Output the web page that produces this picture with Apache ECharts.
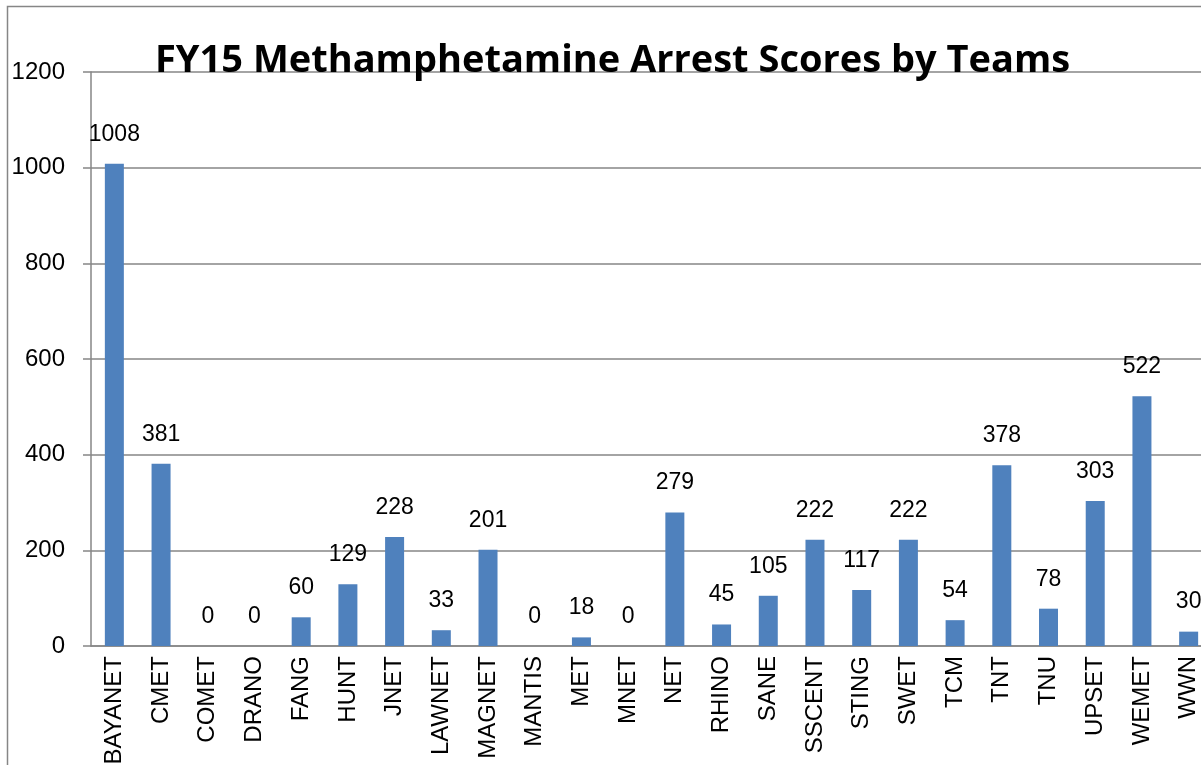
<!DOCTYPE html>
<html>
<head>
<meta charset="utf-8">
<script src="https://cdn.jsdelivr.net/npm/echarts@6/dist/echarts.min.js"></script>
<style>
  html, body { margin: 0; padding: 0; background: #fff; }
  #chart { width: 1201px; height: 765px; }
</style>
</head>
<body>
<div id="chart"></div>
<script>
  // teams and their arrest scores
  const teams = ['BAYANET', 'CMET', 'COMET', 'DRANO', 'FANG', 'HUNT', 'JNET', 'LAWNET',
    'MAGNET', 'MANTIS', 'MET', 'MNET', 'NET', 'RHINO', 'SANE', 'SSCENT', 'STING',
    'SWET', 'TCM', 'TNT', 'TNU', 'UPSET', 'WEMET', 'WWN']
  const scores = [1008, 381, 0, 0, 60, 129, 228, 33, 201, 0, 18, 0, 279, 45, 105,
    222, 117, 222, 54, 378, 78, 303, 522, 30]
  const yTicks = [0, 200, 400, 600, 800, 1000, 1200]

  const myChart = echarts.init(document.getElementById('chart'))
  const axisColor = '#868686'
  const option = {
    animation: false,
    backgroundColor: '#fff',
    title: {
      text: 'FY15 Methamphetamine Arrest Scores by Teams',
      left: 150,
      top: 37,
      textStyle: {
        fontFamily: 'Open Sans, sans-serif',
        fontWeight: 'bold',
        fontSize: 38,
        color: '#000'
      }
    },
    graphic: [{
      // outer chart border (cut off at the right and bottom)
      type: 'rect',
      shape: { x: 7.5, y: 6.5, width: 1400, height: 1000 },
      style: { fill: 'none', stroke: axisColor, lineWidth: 1.5 },
      silent: true
    }],
    // the plot runs a little past the right edge of the picture
    grid: {
      left: 91, top: 72, width: 1121, bottom: 119,
      containLabel: false, outerBoundsMode: 'none'
    },
    xAxis: {
      type: 'category',
      data: teams,
      axisLine: { lineStyle: { color: axisColor, width: 1.5 } },
      axisTick: { length: 8, lineStyle: { color: axisColor, width: 1.5 } },
      axisLabel: {
        rotate: 90,
        interval: 0,
        margin: 10,
        color: '#000',
        fontFamily: 'Liberation Sans, Arial, sans-serif',
        fontSize: 24
      }
    },
    yAxis: {
      type: 'value',
      min: yTicks[0],
      max: yTicks[yTicks.length - 1],
      interval: yTicks[1] - yTicks[0],
      axisLine: { show: true, lineStyle: { color: axisColor, width: 1.5 } },
      axisTick: { show: true, length: 8, lineStyle: { color: axisColor, width: 1.5 } },
      splitLine: { lineStyle: { color: axisColor, width: 1.5 } },
      axisLabel: {
        margin: 26,
        formatter: function (v) { return String(v) },
        color: '#000',
        fontFamily: 'Liberation Sans, Arial, sans-serif',
        fontSize: 24
      }
    },
    series: [{
      type: 'bar',
      data: scores,
      barWidth: 19,
      itemStyle: { color: '#4f81bd' },
      label: {
        show: true,
        position: 'top',
        distance: 18,
        color: '#000',
        fontFamily: 'Liberation Sans, Arial, sans-serif',
        fontSize: 23
      }
    }]
  }
  myChart.setOption(option)
</script>
</body>
</html>
